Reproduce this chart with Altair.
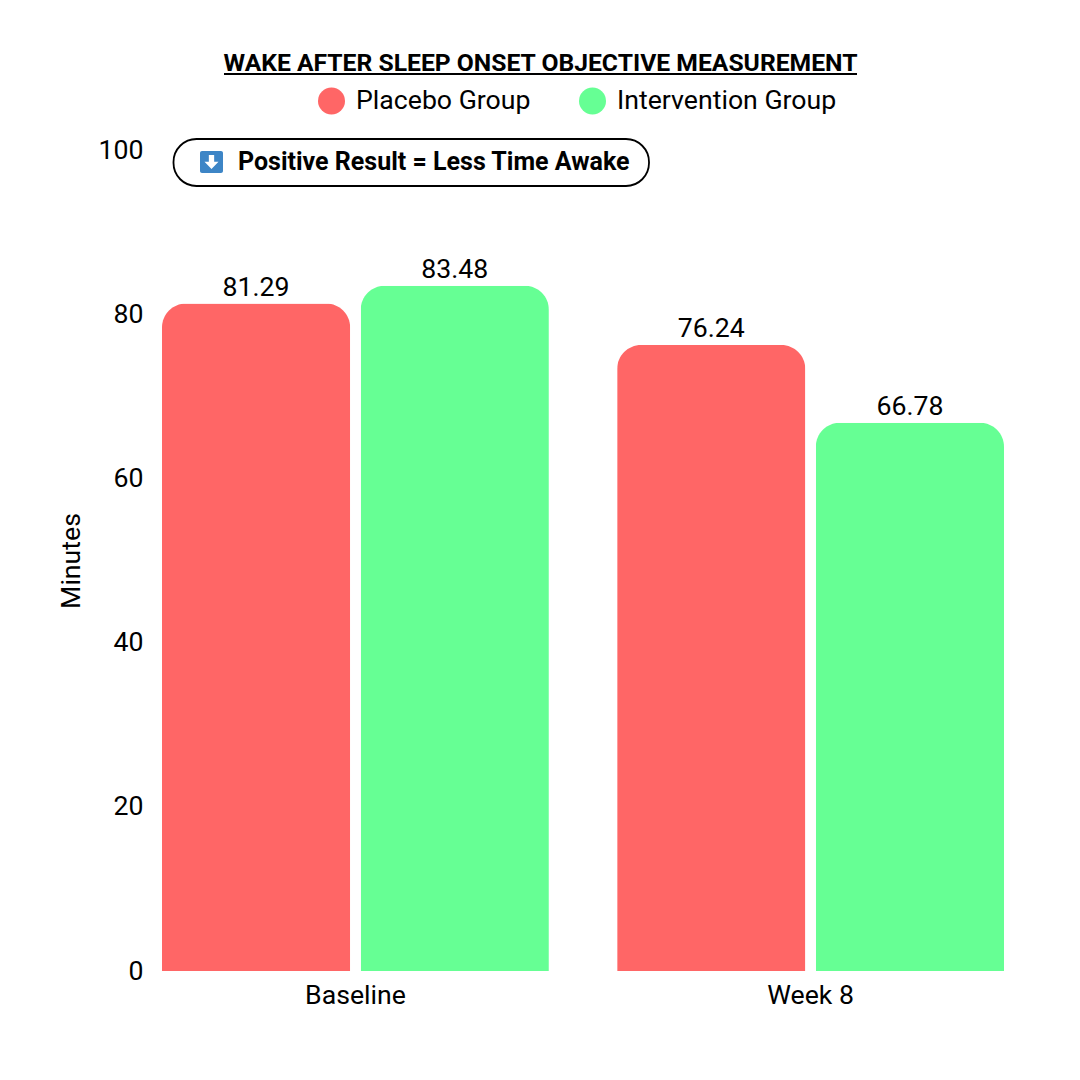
import altair as alt
import pandas as pd

groups = ["Baseline", "Baseline", "Week 8", "Week 8"]
series = ["Placebo Group", "Intervention Group", "Placebo Group", "Intervention Group"]
values = [81.29, 83.48, 76.24, 66.78]
labels = ["81.29", "83.48", "76.24", "66.78"]
colors = ["#FF6666", "#66FF94"]
order = ["Placebo Group", "Intervention Group"]
title_text = ["WAKE AFTER SLEEP ONSET OBJECTIVE MEASUREMENT"]
note_text = ["Positive Result = Less Time Awake"]
FONT = "Roboto"
FS = 26.67
ARROW = "M-0.38,-1 H0.38 V-0.05 H1 L0,1 L-1,-0.05 H-0.38 Z"

df = pd.DataFrame({"g": groups, "s": series, "v": values, "l": labels})
one = alt.Chart(pd.DataFrame({"t": title_text, "n": note_text}))

x = alt.X("g:N", title=None, scale=alt.Scale(paddingInner=0.15, paddingOuter=0.0),
          axis=alt.Axis(labelAngle=0, labelFont=FONT, labelFontSize=FS, labelColor="#000", domain=False, ticks=False, labelPadding=11))
xo = alt.XOffset("s:N", sort=order, scale=alt.Scale(paddingInner=0.053, paddingOuter=0))
y = alt.Y("v:Q", title="Minutes", scale=alt.Scale(domain=[0, 100]),
          axis=alt.Axis(values=[0, 20, 40, 60, 80, 100], grid=False, domain=False, ticks=False, labelFont=FONT,
                        labelFontSize=FS, labelColor="#000", titleFont=FONT, titleFontSize=FS, titleColor="#000",
                        titleFontWeight="normal", labelPadding=19, titlePadding=13))
legend = alt.Legend(orient="none", legendX=156, legendY=-64, direction="horizontal", title=None,
                    symbolType="circle", symbolSize=729, symbolStrokeWidth=0, labelFont=FONT, labelFontSize=FS,
                    labelColor="#000", columnPadding=48, labelOffset=11, symbolOffset=0, clipHeight=30, labelLimit=400)
bars = alt.Chart(df).mark_bar(cornerRadiusTopLeft=24, cornerRadiusTopRight=24).encode(
    x=x, xOffset=xo, y=y,
    color=alt.Color("s:N", sort=order, scale=alt.Scale(domain=order, range=colors), legend=legend))
text = alt.Chart(df).mark_text(baseline="bottom", dy=-2, font=FONT, fontSize=FS, color="#000").encode(
    x=x, xOffset=xo, y=y, text="l:N")

title = one.mark_text(align="center", baseline="alphabetic", font=FONT, fontSize=24.7, fontWeight="bold", color="#000").encode(
    x=alt.value(378.5), y=alt.value(-79), text="t:N")
underline = one.mark_rule(color="#000", strokeWidth=2).encode(
    x=alt.value(62), x2=alt.value(695), y=alt.value(-76))
pill = one.mark_rect(fill="#fff", stroke="#000", strokeWidth=1.8, cornerRadius=23).encode(
    x=alt.value(11.5), x2=alt.value(487), y=alt.value(-11), y2=alt.value(36))
icon = one.mark_rect(fill="#3D85C6", cornerRadius=2).encode(
    x=alt.value(38), x2=alt.value(61), y=alt.value(1), y2=alt.value(23))
arrow = one.mark_point(shape=ARROW, filled=True, fill="#fff", size=196, opacity=1, strokeWidth=0).encode(
    x=alt.value(49.5), y=alt.value(12))
note = one.mark_text(align="left", baseline="alphabetic", font=FONT, fontSize=25, fontWeight="bold", color="#000").encode(
    x=alt.value(76), y=alt.value(20), text="n:N")

chart = alt.layer(bars, text, title, underline, pill, icon, arrow, note).properties(
    width=842, height=821, view=alt.ViewConfig(stroke=None),
    autosize=alt.AutoSizeParams(type="none"),
    padding={"left": 154, "top": 142, "right": 68, "bottom": 101}).resolve_scale(color="independent")
chart.save("out.html", embed_options={"renderer": "svg", "actions": False})
